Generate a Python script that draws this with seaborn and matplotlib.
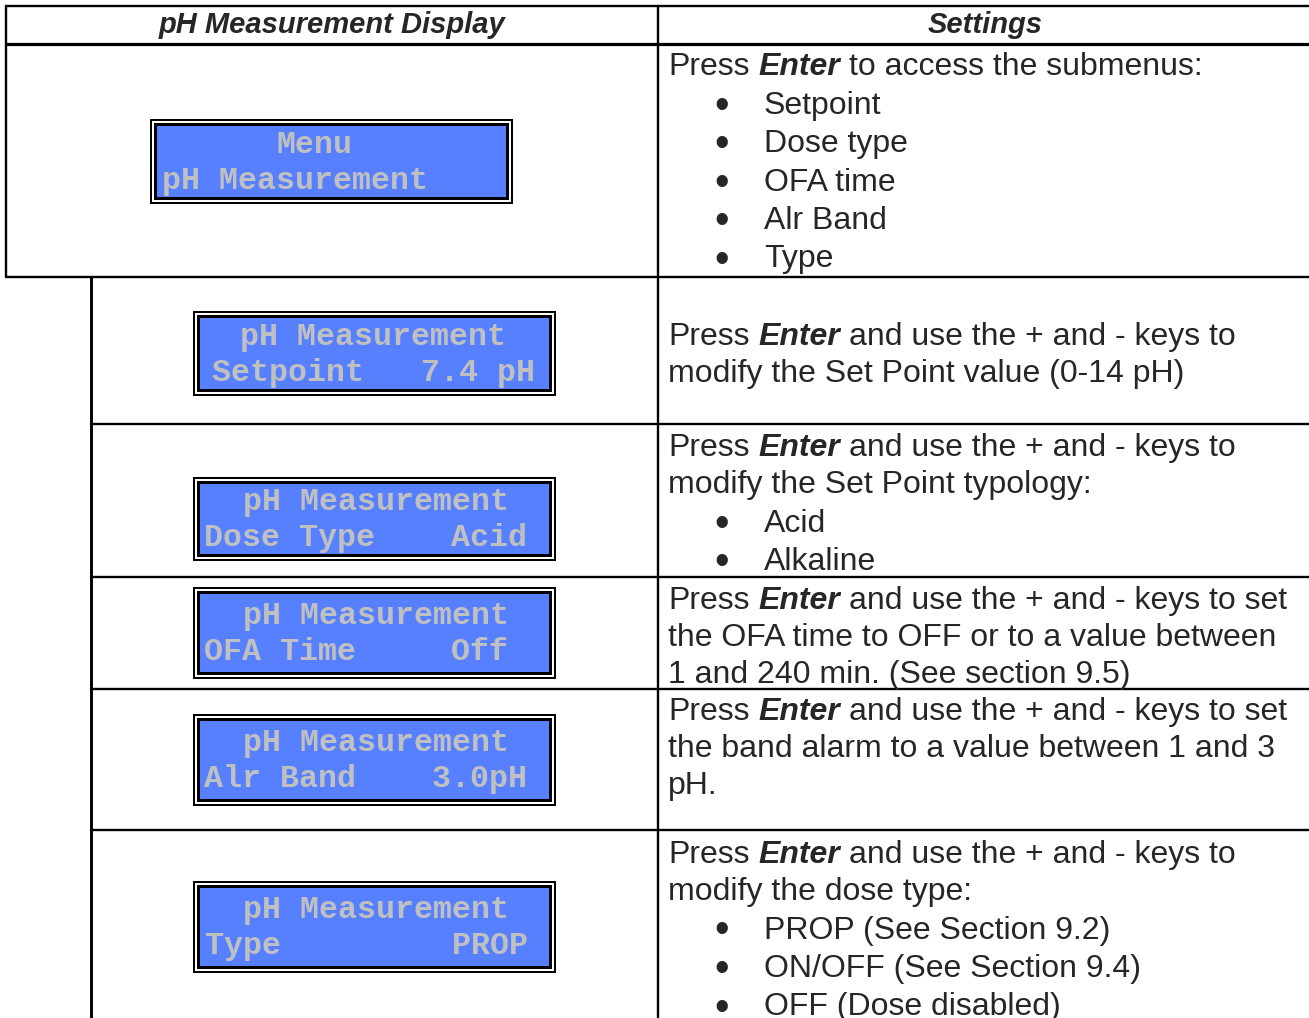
import numpy as np
import pandas as pd
import seaborn as sns
import matplotlib
matplotlib.use("Agg")
import matplotlib.pyplot as plt
from matplotlib.patches import Rectangle

# column headers
headers = ['pH Measurement Display', 'Settings']

# LCD contents (two lines per display)
lcd_top = ['Menu', 'pH Measurement', 'pH Measurement', 'pH Measurement',
           'pH Measurement', 'pH Measurement']
lcd_bottom = ['pH Measurement', 'Setpoint   7.4 pH', 'Dose Type    Acid',
              'OFA Time     Off', 'Alr Band    3.0pH', 'Type         PROP']

# settings column: "Press Enter ..." then more lines, then bullet items
press_rest = ['to access the submenus:',
              'and use the + and - keys to',
              'and use the + and - keys to',
              'and use the + and - keys to set',
              'and use the + and - keys to set',
              'and use the + and - keys to']
more_lines = [[],
              ['modify the Set Point value (0-14 pH)'],
              ['modify the Set Point typology:'],
              ['the OFA time to OFF or to a value between', '1 and 240 min. (See section 9.5)'],
              ['the band alarm to a value between 1 and 3', 'pH.'],
              ['modify the dose type:']]
bullets = [['Setpoint', 'Dose type', 'OFA time', 'Alr Band', 'Type'],
           [],
           ['Acid', 'Alkaline'],
           [],
           [],
           ['PROP (See Section 9.2)', 'ON/OFF (See Section 9.4)', 'OFF (Dose disabled)']]

# ---- layout (pixel units) ----
W, H = 1309, 1018
row_lines = [44, 277, 424, 577, 689, 830]
col_x = 658
first_y = [63, 333, 444, 597, 708, 851]
# LCD boxes: left, top, right, bottom
boxes = [(150, 119, 513, 204), (193, 311, 556, 396), (193, 477, 556, 561),
         (193, 587, 556, 679), (193, 714, 556, 806), (193, 881, 556, 973)]
lcd_x = [(277, 162), (240, 212), (243, 204), (243, 204), (243, 204), (243, 205)]

sns.set_theme(style="white")
plt.rcParams['font.family'] = ['Liberation Sans', 'DejaVu Sans']

fig = plt.figure(figsize=(W / 100, H / 100), dpi=100)
ax = fig.add_axes([0, 0, 1, 1])
ax.set_xlim(0, W)
ax.set_ylim(H, 0)
ax.axis('off')

lw = 1.7
# table frame
ax.plot([6, W], [6, 6], color='black', lw=lw)
ax.plot([6, W], [row_lines[0], row_lines[0]], color='black', lw=lw + 0.6)
ax.plot([6, W], [row_lines[1], row_lines[1]], color='black', lw=lw)
ax.plot([6, 6], [6, row_lines[1]], color='black', lw=lw)
ax.plot([91, 91], [row_lines[1], H], color='black', lw=lw + 0.4)
for y in row_lines[2:]:
    ax.plot([91, W], [y, y], color='black', lw=lw)
ax.plot([col_x, col_x], [6, H], color='black', lw=lw)

# headers
hfont = dict(fontsize=21, fontweight='bold', fontstyle='italic', ha='center', va='baseline')
ax.text(332, 33, headers[0], **hfont)
ax.text(985, 33, headers[1], **hfont)

# LCD displays
blue = '#5680ff'
lcd_text = '#c0c0c0'
for i, (x0, y0, x1, y1) in enumerate(boxes):
    ax.add_patch(Rectangle((x0, y0), x1 - x0, y1 - y0, color='black', lw=0))
    ax.add_patch(Rectangle((x0 + 2, y0 + 2), x1 - x0 - 4, y1 - y0 - 4, color='white', lw=0))
    ax.add_patch(Rectangle((x0 + 4, y0 + 4), x1 - x0 - 8, y1 - y0 - 8, color='black', lw=0))
    ax.add_patch(Rectangle((x0 + 7, y0 + 7), x1 - x0 - 14, y1 - y0 - 14, color=blue, lw=0))
    mid = (y0 + y1) / 2
    lfont = dict(fontsize=22.8, fontweight='bold', family='Liberation Mono',
                 color=lcd_text, ha='left', va='baseline')
    ax.text(lcd_x[i][0], mid - 9, lcd_top[i], **lfont)
    ax.text(lcd_x[i][1], mid + 27, lcd_bottom[i], **lfont)

# settings text
fs = 23
base = 12
space = fs * 100 / 72 * 0.278
fig.canvas.draw()
renderer = fig.canvas.get_renderer()
inv = ax.transData.inverted()


def width(t):
    bb = t.get_window_extent(renderer)
    p0 = inv.transform((bb.x0, bb.y0))
    p1 = inv.transform((bb.x1, bb.y0))
    return p1[0] - p0[0]


for r in range(6):
    y = first_y[r]
    t1 = ax.text(668, y + base, 'Press', fontsize=fs, va='baseline')
    x = 668 + width(t1) + space
    t2 = ax.text(x, y + base, 'Enter', fontsize=fs, fontweight='bold',
                 fontstyle='italic', va='baseline')
    x = x + width(t2) + space
    ax.text(x, y + base, press_rest[r], fontsize=fs, va='baseline')
    for line in more_lines[r]:
        y += 37
        ax.text(668, y + base, line, fontsize=fs, va='baseline')
    for item in bullets[r]:
        y += 38.5
        ax.text(722, y + base + 4, '\u2022', fontsize=30, ha='center', va='baseline')
        ax.text(764, y + base, item, fontsize=fs, va='baseline')

fig.savefig('out.png', dpi=100)
